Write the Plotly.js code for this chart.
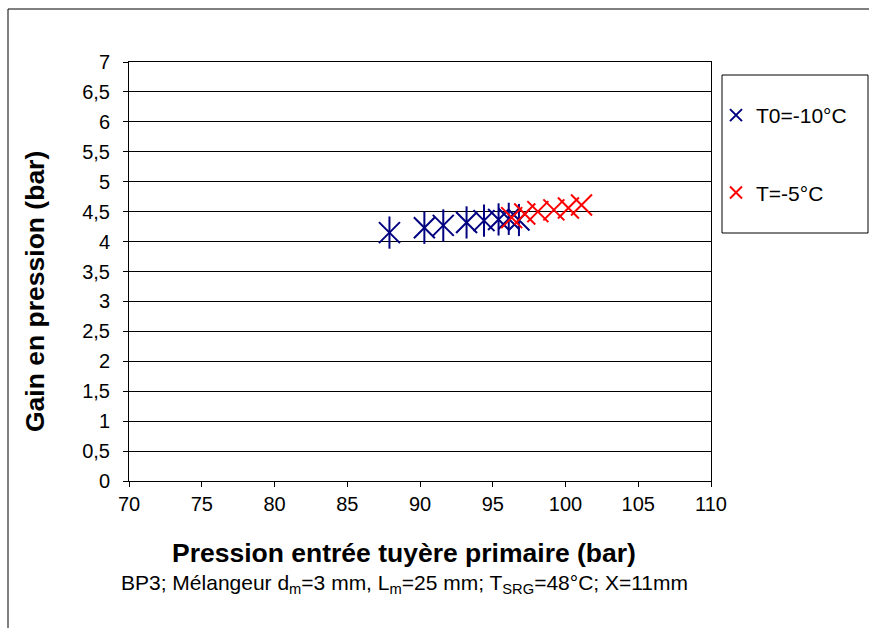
<!DOCTYPE html>
<html>
<head>
<meta charset="utf-8">
<script src="https://cdn.plot.ly/plotly-3.0.1.min.js"></script>
<style>html,body{margin:0;padding:0;background:#fff;}#chart{width:869px;height:628px;}</style>
</head>
<body>
<div id="chart"></div>
<script>
// Series T0=-10°C
const blueX = [87.9, 90.3, 91.6, 93.2, 94.4, 95.4, 96.1, 96.8];
const blueY = [4.15, 4.23, 4.27, 4.32, 4.35, 4.37, 4.38, 4.36];
// Series T=-5°C
const redX = [96.3, 97.2, 98.1, 99.2, 100.2, 101.1];
const redY = [4.40, 4.46, 4.50, 4.53, 4.56, 4.61];
const seriesNames = ["T0=-10°C", "T=-5°C"];
const yTickVals = [0, 0.5, 1, 1.5, 2, 2.5, 3, 3.5, 4, 4.5, 5, 5.5, 6, 6.5, 7];
const yTickText = ["0", "0,5", "1", "1,5", "2", "2,5", "3", "3,5", "4", "4,5", "5", "5,5", "6", "6,5", "7"];
const xTickVals = [70, 75, 80, 85, 90, 95, 100, 105, 110];
const xTitle = "Pression entrée tuyère primaire (bar)";
const yTitle = "Gain en pression (bar)";
const subTitle = "BP3; Mélangeur d<sub>m</sub>=3 mm, L<sub>m</sub>=25 mm; T<sub>SRG</sub>=48°C; X=11mm";

const W = 869, H = 628;
const L = 129, R = 711, T = 62, B = 481;
const pw = R - L, ph = B - T;
const px = v => (v - L) / pw;
const py = v => (B - v) / ph;

const font = "Liberation Sans, Arial, sans-serif";
const navy = "#000080", red = "#ff0000";

const traces = [
  {
    x: blueX, y: blueY, name: seriesNames[0], type: "scatter", mode: "markers",
    legendgroup: "a",
    marker: {symbol: "x-thin-open", size: 21, color: navy, line: {color: navy, width: 2}}
  },
  {
    x: blueX, y: blueY, name: seriesNames[0], type: "scatter", mode: "markers",
    legendgroup: "a", showlegend: false,
    marker: {symbol: "line-ns-open", size: 23, color: navy, line: {color: navy, width: 2}}
  },
  {
    x: redX, y: redY, name: seriesNames[1], type: "scatter", mode: "markers",
    legendgroup: "b",
    marker: {symbol: "x-thin-open", size: 21, color: red, line: {color: red, width: 2}}
  }
];

const layout = {
  width: W, height: H,
  margin: {l: L, r: W - R, t: T, b: H - B},
  paper_bgcolor: "#ffffff", plot_bgcolor: "#ffffff",
  font: {family: font, size: 20, color: "#000"},
  showlegend: true,
  xaxis: {
    range: [70, 110], tickvals: xTickVals, ticktext: xTickVals.map(String),
    showgrid: false, zeroline: false, showline: true, linecolor: "#000", linewidth: 1, mirror: true,
    ticks: "outside", ticklen: 5, tickcolor: "#000",
    tickfont: {family: font, size: 20, color: "#000"}
  },
  yaxis: {
    range: [0, 7], tickvals: yTickVals, ticktext: yTickText,
    showgrid: true, gridcolor: "#000", gridwidth: 1, zeroline: false,
    showline: true, linecolor: "#000", linewidth: 1, mirror: true,
    ticks: "outside", ticklen: 5, tickcolor: "#000", ticklabelstandoff: 9,
    tickfont: {family: font, size: 20, color: "#000"}
  },
  legend: {
    x: px(716), y: py(95), xanchor: "left", yanchor: "top",
    bgcolor: "rgba(0,0,0,0)", borderwidth: 0,
    traceorder: "grouped", tracegroupgap: 47,
    itemsizing: "constant", itemwidth: 30,
    font: {family: font, size: 21, color: "#000"}
  },
  shapes: [
    {type: "rect", xref: "paper", yref: "paper", x0: px(722), x1: px(868), y0: py(233), y1: py(75),
     line: {color: "#000", width: 1}, fillcolor: "rgba(0,0,0,0)"},
    {type: "line", xref: "paper", yref: "paper", x0: px(8), x1: px(8), y0: py(628), y1: py(9),
     line: {color: "#000", width: 1}},
    {type: "line", xref: "paper", yref: "paper", x0: px(8), x1: px(869), y0: py(9), y1: py(9),
     line: {color: "#000", width: 1}}
  ],
  annotations: [
    {xref: "paper", yref: "paper", x: px(404), y: py(553), xanchor: "center", yanchor: "middle",
     showarrow: false, text: "<b>" + xTitle + "</b>",
     font: {family: font, size: 26.5, color: "#000"}},
    {xref: "paper", yref: "paper", x: px(35), y: py(292), xanchor: "center", yanchor: "middle",
     showarrow: false, textangle: -90, text: "<b>" + yTitle + "</b>",
     font: {family: font, size: 26.5, color: "#000"}},
    {xref: "paper", yref: "paper", x: px(404), y: py(584), xanchor: "center", yanchor: "middle",
     showarrow: false, text: subTitle,
     font: {family: font, size: 21, color: "#000"}}
  ]
};

Plotly.newPlot("chart", traces, layout, {displayModeBar: false, staticPlot: true});
</script>
</body>
</html>
